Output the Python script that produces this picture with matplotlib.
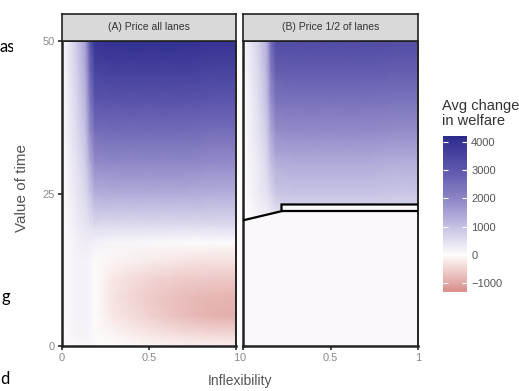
import numpy as np
import matplotlib
matplotlib.use("Agg")
import matplotlib.pyplot as plt
from matplotlib.colors import LinearSegmentedColormap, Normalize
from matplotlib.patches import Rectangle

plt.rcParams["font.family"] = ["Liberation Sans", "DejaVu Sans"]

# ---- data ----------------------------------------------------------------
inflex = [0, 0.035, 0.09, 0.135, 0.16, 0.19, 0.3, 0.5, 0.7, 0.85, 1.0]
vot = [0, 2, 5, 8, 11, 14, 17, 20, 25, 30, 35, 40, 45, 50]

# (A) price all lanes: avg change in welfare, rows = value of time
welfare_a = [
    [0, 50, 100, 100, 80, 40, 0, -80, -120, -150, -150],
    [0, 70, 150, 150, 120, 40, -80, -250, -380, -420, -450],
    [0, 90, 180, 180, 120, 0, -250, -520, -750, -880, -920],
    [0, 90, 180, 180, 120, 0, -300, -570, -750, -840, -860],
    [0, 90, 180, 180, 120, 0, -250, -480, -570, -610, -630],
    [0, 90, 180, 180, 120, 40, -80, -200, -280, -320, -320],
    [0, 90, 220, 280, 230, 180, 120, 80, 40, 40, 40],
    [0, 100, 300, 400, 500, 600, 600, 600, 600, 600, 600],
    [0, 150, 400, 600, 900, 1300, 1350, 1350, 1350, 1300, 1300],
    [0, 200, 500, 800, 1300, 1900, 1950, 1950, 1950, 1900, 1900],
    [50, 250, 600, 1000, 1800, 2500, 2550, 2550, 2550, 2500, 2500],
    [50, 250, 700, 1200, 2200, 3050, 3100, 3100, 3100, 3050, 3050],
    [50, 300, 800, 1400, 2600, 3550, 3600, 3600, 3600, 3550, 3550],
    [100, 300, 900, 1600, 3000, 4000, 4050, 4050, 4050, 4000, 4000],
]

# (B) price 1/2 of lanes
welfare_b = [
    [0, 20, 40, 40, 40, 50, 50, 50, 50, 50, 50],
    [0, 20, 40, 40, 40, 50, 50, 50, 50, 50, 50],
    [0, 20, 40, 40, 40, 50, 50, 50, 50, 50, 50],
    [0, 20, 40, 40, 40, 50, 50, 50, 50, 50, 50],
    [0, 20, 40, 40, 40, 50, 50, 50, 50, 50, 50],
    [0, 20, 40, 40, 40, 50, 50, 50, 50, 50, 50],
    [0, 30, 60, 80, 100, 150, 200, 200, 200, 200, 200],
    [0, 50, 100, 150, 200, 300, 400, 400, 400, 400, 400],
    [0, 100, 300, 450, 650, 900, 950, 950, 950, 900, 900],
    [0, 150, 350, 600, 1000, 1300, 1350, 1350, 1350, 1300, 1300],
    [0, 200, 450, 800, 1400, 1850, 1900, 1900, 1900, 1850, 1850],
    [0, 200, 550, 1000, 1800, 2350, 2400, 2400, 2400, 2350, 2350],
    [50, 250, 650, 1150, 2200, 2850, 2900, 2900, 2900, 2850, 2850],
    [50, 300, 750, 1300, 2600, 3300, 3350, 3350, 3350, 3300, 3300],
]

# boundary lines drawn in panel B
line_upper_x = [0, 0.22, 0.22, 1.0]
line_upper_y = [20.6, 22.1, 23.2, 23.2]
line_lower_x = [0.22, 1.0]
line_lower_y = [22.1, 22.1]
below_value = 60

panel_titles = ["(A) Price all lanes", "(B) Price 1/2 of lanes"]
cbar_ticks = [-1000, 0, 1000, 2000, 3000, 4000]
vmin, vmax = -1300, 4200

# ---- colours ---------------------------------------------------------------
stops = [(-1300, "#d98f8a"), (-1000, "#e2a9a6"), (0, "#fefcfc"),
         (1000, "#c4c0e3"), (2000, "#8c85c6"), (3000, "#5f58ad"),
         (4000, "#363394"), (4200, "#2c2b8c")]
cmap = LinearSegmentedColormap.from_list(
    "welfare", [((v - vmin) / (vmax - vmin), c) for v, c in stops])
norm = Normalize(vmin=vmin, vmax=vmax)

W, H = 519, 391
fig = plt.figure(figsize=(W / 100, H / 100), dpi=100)


def fx(px):
    return px / W


def fy(py):
    return 1 - py / H


panels = [(62, 236), (243, 418)]
top_px, bot_px = 41, 346
tick_col = "#8a8a8a"

for i, (x0, x1) in enumerate(panels):
    ax = fig.add_axes([fx(x0), fy(bot_px), fx(x1 - x0), (bot_px - top_px) / H])
    z = np.array(welfare_a if i == 0 else welfare_b)
    ax.pcolormesh(inflex, vot, z, cmap=cmap, norm=norm, shading="gouraud",
                  rasterized=True)
    if i == 1:
        ax.fill_between(line_upper_x, 0, line_upper_y,
                        color=cmap(norm(below_value)), lw=0, zorder=2)
        ax.plot(line_upper_x, line_upper_y, color="black", lw=1.6, zorder=3,
                solid_joinstyle="miter")
        ax.plot(line_lower_x, line_lower_y, color="black", lw=1.6, zorder=3)
    ax.set_xlim(0, 1)
    ax.set_ylim(0, 50)
    ax.set_xticks([0, 0.5, 1])
    ax.set_xticklabels(["0", "0.5", "1"])
    ax.set_yticks([0, 25, 50])
    if i == 1:
        ax.tick_params(axis="y", left=False, labelleft=False)
    for s in ax.spines.values():
        s.set_color("#222222")
        s.set_linewidth(1.4)
    ax.spines["bottom"].set_linewidth(1.8)
    ax.spines["left"].set_linewidth(1.8)
    ax.tick_params(length=3, width=1.2, color="#222222", labelsize=8,
                   labelcolor=tick_col, pad=2)
    # facet strip
    sax = fig.add_axes([fx(x0), fy(top_px), fx(x1 - x0), (top_px - 14) / H])
    sax.set_facecolor("#d9d9d9")
    sax.set_xticks([])
    sax.set_yticks([])
    for s in sax.spines.values():
        s.set_color("#222222")
        s.set_linewidth(1.2)
    sax.text(0.5, 0.5, panel_titles[i], ha="center", va="center",
             fontsize=7.5, color="#333333", transform=sax.transAxes)

fig.text(fx(22), fy(188), "Value of time", rotation=90, ha="center",
         va="center", fontsize=11, color="#555555")
fig.text(fx(240), fy(381), "Inflexibility", ha="center", va="center",
         fontsize=10, color="#555555")

# ---- colour bar ------------------------------------------------------------
cb_top, cb_bot = 136.4, 291.5
cax = fig.add_axes([fx(443), fy(cb_bot), fx(24), (cb_bot - cb_top) / H])
sm = plt.cm.ScalarMappable(norm=norm, cmap=cmap)
cb = fig.colorbar(sm, cax=cax, ticks=cbar_ticks)
cb.outline.set_visible(False)
cax.tick_params(length=0, labelsize=8, labelcolor="#555555", pad=3)
cax.set_yticklabels([str(t) if t >= 0 else "\u22121000" for t in cbar_ticks])
cax.hlines(cbar_ticks, 0, 0.2, color="white", lw=0.8)
cax.hlines(cbar_ticks, 0.8, 1, color="white", lw=0.8)
fig.text(fx(442), fy(128), "Avg change\nin welfare", ha="left", va="bottom",
         fontsize=10.5, color="#333333", linespacing=1.05)

# stray text from the surrounding page
fig.text(fx(-1), fy(47), "as", ha="left", va="center", fontsize=12,
         family=["Lato", "DejaVu Sans"], color="black")
fig.add_artist(Rectangle((fx(13), fy(60)), fx(20), 25 / H,
                         transform=fig.transFigure, facecolor="white",
                         edgecolor="none", zorder=5))
fig.text(fx(1), fy(297), "g", ha="left", va="center", fontsize=12,
         family=["Lato", "DejaVu Sans"], color="black")
fig.text(fx(0), fy(379), "d", ha="left", va="center", fontsize=12,
         family=["Lato", "DejaVu Sans"], color="black")

fig.savefig("out.png", dpi=100)
